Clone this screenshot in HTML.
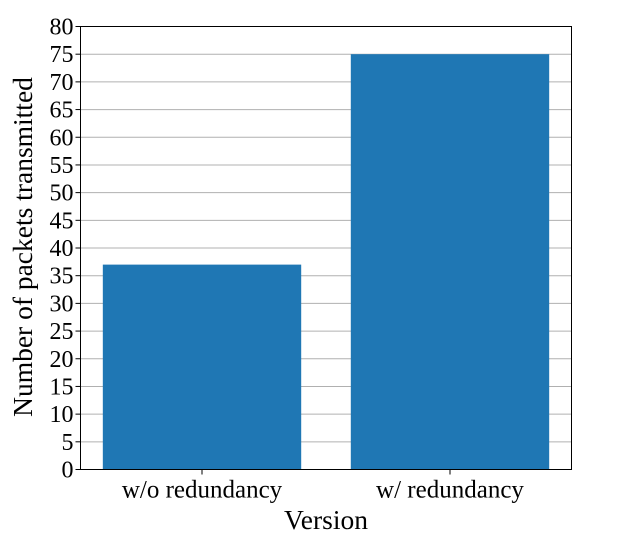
<!DOCTYPE html>
<html><head><meta charset="utf-8"><style>
body{margin:0;background:#fff;}
svg text{font-family:"Liberation Serif",serif;fill:#000;}
</style></head><body>
<svg width="635" height="539">
<g id="grid"></g>
<g id="bars"></g>
<rect x="80.5" y="26.5" width="491" height="443" fill="none" stroke="#000" stroke-width="1"/>
<g id="yt"></g>
<g id="xt"></g>
<text x="326" y="529" font-size="27.5" text-anchor="middle">Version</text>
<text transform="translate(32,247) rotate(-90)" font-size="27.5" text-anchor="middle">Number of packets transmitted</text>
</svg>
<script>
const categories=["w/o redundancy","w/ redundancy"];
const values=[37,75];
const yTicks=[0,5,10,15,20,25,30,35,40,45,50,55,60,65,70,75,80];
const L=80.5,R=571.5,T=26.5,B=469.5;
const y=v=>B-(v/80)*(B-T);
const x=i=>L+(i+0.49)/1.98*(R-L);
const bw=0.8/1.98*(R-L);
const ns="http://www.w3.org/2000/svg";
function mk(t,a,p){const e=document.createElementNS(ns,t);for(const k in a)e.setAttribute(k,a[k]);p.appendChild(e);return e;}
const g=document.getElementById('grid'),bg=document.getElementById('bars'),yt=document.getElementById('yt'),xt=document.getElementById('xt');
yTicks.forEach(v=>{
 const l=mk('line',{x1:L,x2:R,y1:y(v),y2:y(v),stroke:'#b0b0b0','stroke-width':1},g);
 
 
 const tk=mk('line',{x1:L-5,x2:L,y1:y(v),y2:y(v),stroke:'#000'},yt);
 
 
 const t=mk('text',{x:L-7,y:y(v)+8,'font-size':24,'text-anchor':'end'},yt);
 t.textContent=v;
 
 
});
values.forEach((v,i)=>{
 const r=mk('rect',{x:x(i)-bw/2,y:y(v),width:bw,height:B-y(v),fill:'#1f77b4'},bg);
 
 
 const tk=mk('line',{x1:x(i),x2:x(i),y1:B,y2:B+5,stroke:'#000'},xt);
 
 
 const t=mk('text',{x:x(i),y:B+28,'font-size':25,'text-anchor':'middle'},xt);
 t.textContent=categories[i];
 
 
});
</script>
</body></html>
